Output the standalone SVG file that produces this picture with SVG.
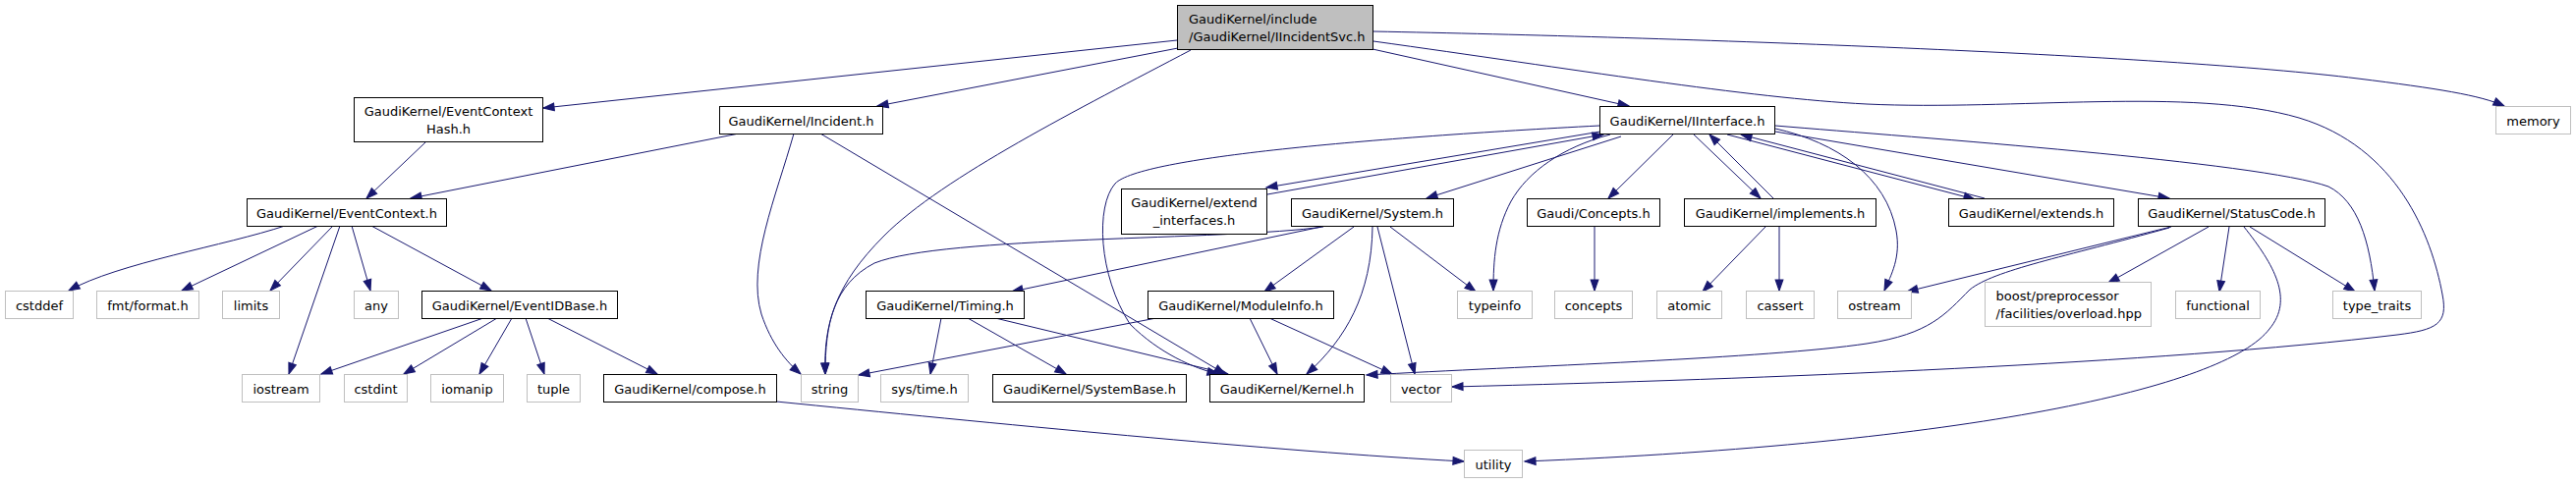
<svg xmlns="http://www.w3.org/2000/svg" width="2622" height="493" viewBox="0 0 2622 493">
<style>
rect{stroke-width:1}
.n rect{fill:#fff;stroke:#000}
.x rect{fill:#fff;stroke:#bfbfbf}
.r rect{fill:#bfbfbf;stroke:#000}
text{font-family:"DejaVu Sans",sans-serif;font-size:13px;fill:#000}
.c{text-anchor:middle}
#edges path{fill:none;stroke:#191970;stroke-width:1;marker-end:url(#a)}
</style>
<defs>
<marker id="a" markerUnits="userSpaceOnUse" markerWidth="11" markerHeight="8" viewBox="0 0 10 7" refX="10" refY="3.5" orient="auto" overflow="visible">
<path d="M0,0 L10,3.5 L0,7 z" fill="#191970" stroke="#191970" stroke-width="1"/>
</marker>
</defs>
<rect width="2622" height="493" fill="#fff"/>
<g id="edges">
<path d="M1198,41 L553,110"/>
<path d="M1199,49 L893,108"/>
<path d="M1212,51 C1100,110 960,180 900,240 C850,290 838,330 840,381"/>
<path d="M1397,50 L1658,108"/>
<path d="M1398,42 C1600,70 1780,100 1900,106 C2050,113 2230,88 2340,120 C2440,150 2475,240 2486,300 C2492,330 2480,336 2440,341 C2200,370 1800,386 1478,394"/>
<path d="M1398,32 C1700,38 2200,55 2400,80 C2480,90 2525,97 2549,108"/>
<path d="M752,136 L418,202"/>
<path d="M808,136 C790,200 760,270 775,320 C785,350 800,368 815,381"/>
<path d="M835,136 L1247,381"/>
<path d="M433,145 L373,202"/>
<path d="M290,230 C230,250 120,268 70,296"/>
<path d="M324,230 L185,296"/>
<path d="M339,230 L275,296"/>
<path d="M346,230 L294,381"/>
<path d="M358,230 L377,296"/>
<path d="M378,230 L500,296"/>
<path d="M492,324 L327,381"/>
<path d="M506,324 L411,381"/>
<path d="M521,324 L488,381"/>
<path d="M535,324 L554,381"/>
<path d="M557,324 L669,381"/>
<path d="M790,409 C1000,430 1300,460 1490,470"/>
<path d="M1628,128 C1400,140 1160,160 1135,187 C1115,210 1118,280 1150,330 C1180,360 1215,375 1240,381"/>
<path d="M1629,134 L1289,191"/>
<path d="M1290,198 L1632,137"/>
<path d="M1650,139 L1452,202"/>
<path d="M1639,137 C1590,150 1555,175 1538,205 C1522,235 1520,265 1520,296"/>
<path d="M1703,137 L1637,202"/>
<path d="M1724,137 L1792,202"/>
<path d="M1805,202 L1740,137"/>
<path d="M1807,131 C1870,145 1920,180 1930,235 C1935,262 1925,280 1918,296"/>
<path d="M1758,137 L2010,203"/>
<path d="M2020,202 L1772,137"/>
<path d="M1807,134 L2208,202"/>
<path d="M1807,128 C1950,140 2300,165 2370,190 C2400,205 2412,245 2417,296"/>
<path d="M1347,231 C1250,245 960,240 890,268 C848,290 840,330 840,381"/>
<path d="M1345,231 L1030,297"/>
<path d="M1378,231 L1287,297"/>
<path d="M1397,231 C1396,300 1370,345 1330,381"/>
<path d="M1402,231 L1440,381"/>
<path d="M1415,231 L1502,297"/>
<path d="M958,324 L947,381"/>
<path d="M985,324 L1085,381"/>
<path d="M1013,324 L1250,381"/>
<path d="M1177,324 L874,382"/>
<path d="M1272,324 L1300,381"/>
<path d="M1292,324 L1417,381"/>
<path d="M1623,230 L1623,296"/>
<path d="M1798,230 L1733,297"/>
<path d="M1811,230 L1811,296"/>
<path d="M2210,231 L1941,297"/>
<path d="M2208,232 C2100,262 2030,275 2005,295 C1980,320 1965,340 1900,350 C1800,365 1550,373 1391,382"/>
<path d="M2248,231 L2146,288"/>
<path d="M2269,231 L2259,297"/>
<path d="M2284,231 C2315,270 2335,305 2310,335 C2265,395 2000,452 1552,470"/>
<path d="M2290,231 L2397,297"/>
</g>
<g id="n-root" class="r"><rect x="1198.5" y="5.5" width="199" height="45"/><text x="1210" y="24">GaudiKernel/include</text><text x="1210" y="41.5">/GaudiKernel/IIncidentSvc.h</text></g>
<g id="n-eventcontexthash" class="n"><rect x="360.5" y="99.5" width="192" height="45"/><text class="c" x="456.5" y="118">GaudiKernel/EventContext</text><text class="c" x="456.5" y="135.5">Hash.h</text></g>
<g id="n-incident" class="n"><rect x="732.5" y="108.5" width="166" height="28"/><text class="c" x="815.5" y="127.5">GaudiKernel/Incident.h</text></g>
<g id="n-iinterface" class="n"><rect x="1628.5" y="108.5" width="178" height="28"/><text class="c" x="1717.5" y="127.5">GaudiKernel/IInterface.h</text></g>
<g id="n-memory" class="x"><rect x="2540.5" y="108.5" width="76" height="28"/><text class="c" x="2578.5" y="127.5">memory</text></g>
<g id="n-eventcontext" class="n"><rect x="251.5" y="202.5" width="203" height="28"/><text class="c" x="353" y="221.5">GaudiKernel/EventContext.h</text></g>
<g id="n-extend_interfaces" class="n"><rect x="1141.5" y="192.5" width="148" height="46"/><text class="c" x="1215.5" y="211">GaudiKernel/extend</text><text class="c" x="1215.5" y="228.5">_interfaces.h</text></g>
<g id="n-system" class="n"><rect x="1314.5" y="202.5" width="165" height="28"/><text class="c" x="1397" y="221.5">GaudiKernel/System.h</text></g>
<g id="n-gaudiconcepts" class="n"><rect x="1554.5" y="202.5" width="135" height="28"/><text class="c" x="1622" y="221.5">Gaudi/Concepts.h</text></g>
<g id="n-implements" class="n"><rect x="1714.5" y="202.5" width="195" height="28"/><text class="c" x="1812" y="221.5">GaudiKernel/implements.h</text></g>
<g id="n-extends" class="n"><rect x="1983.5" y="202.5" width="168" height="28"/><text class="c" x="2067.5" y="221.5">GaudiKernel/extends.h</text></g>
<g id="n-statuscode" class="n"><rect x="2176.5" y="202.5" width="190" height="28"/><text class="c" x="2271.5" y="221.5">GaudiKernel/StatusCode.h</text></g>
<g id="n-cstddef" class="x"><rect x="5.5" y="296.5" width="69" height="28"/><text class="c" x="40" y="315.5">cstddef</text></g>
<g id="n-fmtformat" class="x"><rect x="98.5" y="296.5" width="104" height="28"/><text class="c" x="150.5" y="315.5">fmt/format.h</text></g>
<g id="n-limits" class="x"><rect x="226.5" y="296.5" width="58" height="28"/><text class="c" x="255.5" y="315.5">limits</text></g>
<g id="n-any" class="x"><rect x="360.5" y="296.5" width="45" height="28"/><text class="c" x="383" y="315.5">any</text></g>
<g id="n-eventidbase" class="n"><rect x="429.5" y="296.5" width="199" height="28"/><text class="c" x="529" y="315.5">GaudiKernel/EventIDBase.h</text></g>
<g id="n-timing" class="n"><rect x="881.5" y="296.5" width="161" height="28"/><text class="c" x="962" y="315.5">GaudiKernel/Timing.h</text></g>
<g id="n-moduleinfo" class="n"><rect x="1168.5" y="296.5" width="189" height="28"/><text class="c" x="1263" y="315.5">GaudiKernel/ModuleInfo.h</text></g>
<g id="n-typeinfo" class="x"><rect x="1483.5" y="296.5" width="76" height="28"/><text class="c" x="1521.5" y="315.5">typeinfo</text></g>
<g id="n-concepts" class="x"><rect x="1582.5" y="296.5" width="79" height="28"/><text class="c" x="1622" y="315.5">concepts</text></g>
<g id="n-atomic" class="x"><rect x="1686.5" y="296.5" width="66" height="28"/><text class="c" x="1719.5" y="315.5">atomic</text></g>
<g id="n-cassert" class="x"><rect x="1777.5" y="296.5" width="69" height="28"/><text class="c" x="1812" y="315.5">cassert</text></g>
<g id="n-ostream" class="x"><rect x="1870.5" y="296.5" width="75" height="28"/><text class="c" x="1908" y="315.5">ostream</text></g>
<g id="n-boost" class="x"><rect x="2020.5" y="287.5" width="169" height="45"/><text x="2031.5" y="306">boost/preprocessor</text><text x="2031.5" y="323.5">/facilities/overload.hpp</text></g>
<g id="n-functional" class="x"><rect x="2214.5" y="296.5" width="86" height="28"/><text class="c" x="2257.5" y="315.5">functional</text></g>
<g id="n-type_traits" class="x"><rect x="2374.5" y="296.5" width="90" height="28"/><text class="c" x="2419.5" y="315.5">type_traits</text></g>
<g id="n-iostream" class="x"><rect x="246.5" y="381.5" width="79" height="28"/><text class="c" x="286" y="400.5">iostream</text></g>
<g id="n-cstdint" class="x"><rect x="350.5" y="381.5" width="64" height="28"/><text class="c" x="382.5" y="400.5">cstdint</text></g>
<g id="n-iomanip" class="x"><rect x="438.5" y="381.5" width="74" height="28"/><text class="c" x="475.5" y="400.5">iomanip</text></g>
<g id="n-tuple" class="x"><rect x="536.5" y="381.5" width="54" height="28"/><text class="c" x="563.5" y="400.5">tuple</text></g>
<g id="n-compose" class="n"><rect x="614.5" y="381.5" width="176" height="28"/><text class="c" x="702.5" y="400.5">GaudiKernel/compose.h</text></g>
<g id="n-string" class="x"><rect x="815.5" y="381.5" width="58" height="28"/><text class="c" x="844.5" y="400.5">string</text></g>
<g id="n-systime" class="x"><rect x="896.5" y="381.5" width="89" height="28"/><text class="c" x="941" y="400.5">sys/time.h</text></g>
<g id="n-systembase" class="n"><rect x="1010.5" y="381.5" width="197" height="28"/><text class="c" x="1109" y="400.5">GaudiKernel/SystemBase.h</text></g>
<g id="n-kernel" class="n"><rect x="1231.5" y="381.5" width="157" height="28"/><text class="c" x="1310" y="400.5">GaudiKernel/Kernel.h</text></g>
<g id="n-vector" class="x"><rect x="1415.5" y="381.5" width="62" height="28"/><text class="c" x="1446.5" y="400.5">vector</text></g>
<g id="n-utility" class="x"><rect x="1490.5" y="458.5" width="59" height="28"/><text class="c" x="1520" y="477.5">utility</text></g>
</svg>
